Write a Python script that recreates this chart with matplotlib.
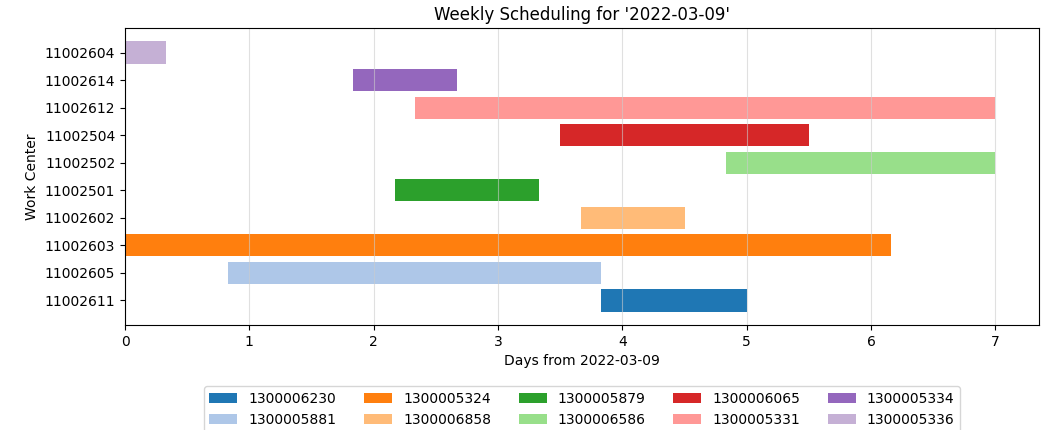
import matplotlib
matplotlib.use("Agg")
import matplotlib.pyplot as plt

work_centers = ["11002611", "11002605", "11002603", "11002602", "11002501",
                "11002502", "11002504", "11002612", "11002614", "11002604"]
orders = ["1300006230", "1300005881", "1300005324", "1300006858", "1300005879",
          "1300006586", "1300006065", "1300005331", "1300005334", "1300005336"]
start_days = [3.83, 0.83, 0.0, 3.67, 2.17, 4.83, 3.5, 2.33, 1.83, 0.0]
end_days = [5.0, 3.83, 6.16, 4.5, 3.33, 7.0, 5.5, 7.0, 2.67, 0.33]

colors = plt.get_cmap("tab20").colors

fig = plt.figure(figsize=(10.49, 4.30), dpi=100)
ax = fig.add_axes([125 / 1049, 1 - 325 / 430, (1039 - 125) / 1049, (325 - 28) / 430])

for i, (wc, order, s, e) in enumerate(zip(work_centers, orders, start_days, end_days)):
    ax.barh(wc, e - s, left=s, color=colors[i], label=order)

ax.grid(axis="x", color="#cccccc", alpha=0.6)
ax.set_title("Weekly Scheduling for '2022-03-09'")
ax.set_xlabel("Days from 2022-03-09")
ax.set_ylabel("Work Center")
ax.legend(loc="upper center", bbox_to_anchor=(0.5, -0.183), ncol=5)

fig.savefig("out.png", dpi=100)
